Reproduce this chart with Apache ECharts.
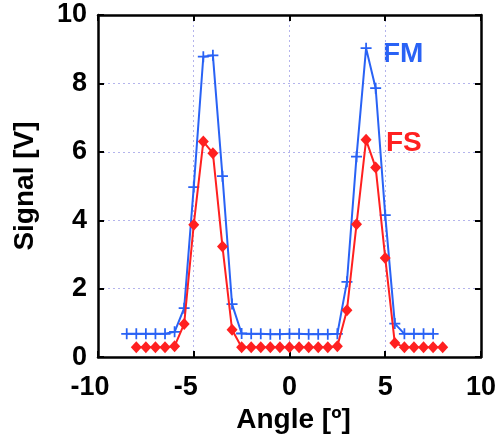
<!DOCTYPE html>
<html>
<head>
<meta charset="utf-8">
<script src="https://cdn.jsdelivr.net/npm/echarts@6/dist/echarts.min.js"></script>
<style>html,body{margin:0;padding:0;background:#fff;}#c{width:499px;height:439px;}</style>
</head>
<body>
<div id="c"></div>
<script>
var fmAngle = [-8.5,-8,-7.5,-7,-6.5,-6,-5.5,-5,-4.5,-4,-3.5,-3,-2.5,-2,-1.5,-1,-0.5,0,0.5,1,1.5,2,2.5,3,3.5,4,4.5,5,5.5,6,6.5,7,7.5];
var fmSignal = [0.68,0.68,0.68,0.68,0.68,0.74,1.43,4.97,8.78,8.82,5.29,1.55,0.69,0.68,0.68,0.67,0.67,0.68,0.68,0.67,0.67,0.67,0.68,2.2,5.86,9.03,7.86,4.15,0.98,0.68,0.68,0.68,0.68];
var fsAngle = [-8,-7.5,-7,-6.5,-6,-5.5,-5,-4.5,-4,-3.5,-3,-2.5,-2,-1.5,-1,-0.5,0,0.5,1,1.5,2,2.5,3,3.5,4,4.5,5,5.5,6,6.5,7,7.5,8];
var fsSignal = [0.29,0.29,0.29,0.29,0.32,0.97,3.87,6.3,5.96,3.23,0.8,0.29,0.29,0.29,0.29,0.29,0.29,0.29,0.29,0.29,0.29,0.32,1.37,3.88,6.35,5.54,2.9,0.41,0.29,0.29,0.29,0.29,0.29];
var xTicks = [-10,-5,0,5,10];
var yTicks = [0,2,4,6,8,10];
var seriesNames = ['FM','FS'];

var BLUE = '#2962f5', RED = '#ff2020';
var FONT = '"Liberation Sans", Arial, sans-serif';
function pairs(a,b){return a.map(function(v,i){return [v,b[i]];});}

var chart = echarts.init(document.getElementById('c'), null, {renderer:'canvas'});
var axisLineStyle = {color:'#000', width:2.5};
var gridLine = {show:true, lineStyle:{color:'#b4b4ec', type:[2,3], width:1}};
chart.setOption({
  animation:false,
  backgroundColor:'#fff',
  grid:{left:98, right:18, top:15, bottom:79, containLabel:false},
  xAxis:[{
    type:'value', min:xTicks[0], max:xTicks[xTicks.length-1], interval:5,
    axisLine:{show:true, onZero:false, lineStyle:axisLineStyle},
    axisTick:{show:true, inside:true, length:6, lineStyle:{color:'#000', width:2}},
    axisLabel:{margin:17, color:'#000', fontSize:27, fontWeight:'bold', fontFamily:FONT,
      formatter:function(v){return v<0?('{m|'+v+'}'):String(v);},
      rich:{m:{fontSize:27, fontWeight:'bold', fontFamily:FONT, color:'#000', padding:[0,16,0,0]}}},
    splitLine:gridLine,
    name:'Angle [º]', nameLocation:'middle', nameGap:47,
    nameTextStyle:{color:'#000', fontSize:28, fontWeight:'bold', fontFamily:FONT, padding:[0,0,0,8]}
  },{
    type:'value', position:'top', min:-10, max:10, interval:5,
    axisLine:{show:true, onZero:false, lineStyle:axisLineStyle},
    axisTick:{show:true, inside:true, length:6, lineStyle:{color:'#000', width:2}},
    axisLabel:{show:false}, splitLine:{show:false}
  }],
  yAxis:[{
    type:'value', min:yTicks[0], max:yTicks[yTicks.length-1], interval:2,
    axisLine:{show:true, onZero:false, lineStyle:axisLineStyle},
    axisTick:{show:true, inside:true, length:6, lineStyle:{color:'#000', width:2}},
    axisLabel:{margin:11, color:'#000', fontSize:27, fontWeight:'bold', fontFamily:FONT},
    splitLine:gridLine,
    name:'Signal [V]', nameLocation:'middle', nameGap:59,
    nameTextStyle:{color:'#000', fontSize:28, fontWeight:'bold', fontFamily:FONT}
  },{
    type:'value', position:'right', min:0, max:10, interval:2,
    axisLine:{show:true, onZero:false, lineStyle:axisLineStyle},
    axisTick:{show:true, inside:true, length:6, lineStyle:{color:'#000', width:2}},
    axisLabel:{show:false}, splitLine:{show:false}
  }],
  series:[{
    name:seriesNames[0], type:'line', data:pairs(fmAngle,fmSignal),
    lineStyle:{color:BLUE, width:2}, itemStyle:{color:BLUE},
    symbol:'path://M4.2,0H5.8V4.2H10V5.8H5.8V10H4.2V5.8H0V4.2H4.2Z', symbolSize:11, z:2
  },{
    name:seriesNames[1], type:'line', data:pairs(fsAngle,fsSignal),
    lineStyle:{color:RED, width:2}, itemStyle:{color:RED},
    symbol:'diamond', symbolSize:[11,12], z:3
  }],
  graphic:[
    {type:'text', left:383, top:40, style:{text:seriesNames[0], fill:BLUE, font:'bold 28px '+FONT}},
    {type:'text', left:386, top:129, style:{text:seriesNames[1], fill:RED, font:'bold 28px '+FONT}}
  ]
});
</script>
</body>
</html>
